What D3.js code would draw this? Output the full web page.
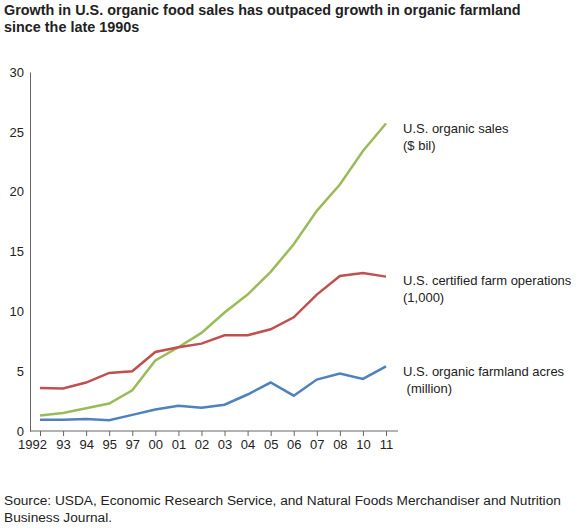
<!DOCTYPE html>
<html lang="en">
  <head>
    <meta charset="UTF-8" />
    <style>
      body { margin: 0; background: #fff; font-family: Arial, "Liberation Sans", sans-serif; }
      .title { font-weight: bold; font-size: 14.4px; fill: #222; }
      .tick text { font-size: 13px; fill: #222; }
      .lab { font-size: 13px; fill: #222; }
      .src { font-size: 13.7px; fill: #222; }
    </style>
  </head>
  <body>
    <svg id="chart" width="585" height="528"></svg>
    <script src="https://cdn.jsdelivr.net/npm/d3@7"></script>
    <script>
      const years = ['1992', '93', '94', '95', '97', '00', '01', '02', '03', '04', '05', '06', '07', '08', '10', '11'];
      const sales = [1.3, 1.5, 1.9, 2.3, 3.4, 5.9, 7.0, 8.2, 9.9, 11.4, 13.3, 15.6, 18.4, 20.6, 23.4, 25.7];
      const farms = [3.6, 3.55, 4.05, 4.85, 5.0, 6.6, 7.0, 7.3, 8.0, 8.0, 8.5, 9.5, 11.4, 12.95, 13.2, 12.9];
      const acres = [0.93, 0.95, 1.0, 0.9, 1.35, 1.8, 2.1, 1.95, 2.2, 3.05, 4.05, 2.95, 4.3, 4.8, 4.35, 5.4];
      const yTicks = [0, 5, 10, 15, 20, 25, 30];

      const svg = d3.select('#chart');
      const x = d3.scalePoint().domain(years).range([40, 386]);
      const y = d3.scaleLinear().domain([0, 30]).range([431, 72]);

      svg.append('text').attr('class', 'title').attr('x', 4).attr('y', 15)
        .text('Growth in U.S. organic food sales has outpaced growth in organic farmland');
      svg.append('text').attr('class', 'title').attr('x', 4).attr('y', 32).text('since the late 1990s');

      const yAxis = svg.append('g').attr('transform', 'translate(30,0)')
        .call(d3.axisLeft(y).tickValues(yTicks).tickSize(0).tickPadding(6));
      yAxis.select('.domain').attr('stroke', '#666');
      yAxis.selectAll('.tick text').attr('font-family', 'Arial, Liberation Sans, sans-serif');

      const xAxis = svg.append('g').attr('transform', 'translate(0,431)')
        .call(d3.axisBottom(x).tickSize(5).tickPadding(4));
      xAxis.select('.domain').attr('d', 'M30,0H398').attr('stroke', '#666');
      xAxis.selectAll('.tick line').attr('stroke', '#666');
      xAxis.selectAll('.tick text').attr('font-family', 'Arial, Liberation Sans, sans-serif')
        .attr('dx', (d) => (d === '1992' ? -8 : 0));

      const line = d3.line().x((d, i) => x(years[i])).y((d) => y(d));
      [[sales, '#9bbb59'], [farms, '#c0504d'], [acres, '#4f81bd']].forEach(([s, c]) => {
        svg.append('path').datum(s).attr('d', line).attr('fill', 'none')
          .attr('stroke', c).attr('stroke-width', 2.5);
      });

      const labels = [
        [['U.S. organic sales', '($ bil)'], 133],
        [['U.S. certified farm operations', '(1,000)'], 285],
        [['U.S. organic farmland acres', ' (million)'], 376],
      ];
      labels.forEach(([lines, ty]) => {
        lines.forEach((t, i) => {
          svg.append('text').attr('class', 'lab').attr('x', 403).attr('y', ty + i * 17)
            .attr('xml:space', 'preserve').text(t);
        });
      });

      svg.append('text').attr('class', 'src').attr('x', 4).attr('y', 505)
        .text('Source: USDA, Economic Research Service, and Natural Foods Merchandiser and Nutrition');
      svg.append('text').attr('class', 'src').attr('x', 4).attr('y', 522).text('Business Journal.');
    </script>
  </body>
</html>
